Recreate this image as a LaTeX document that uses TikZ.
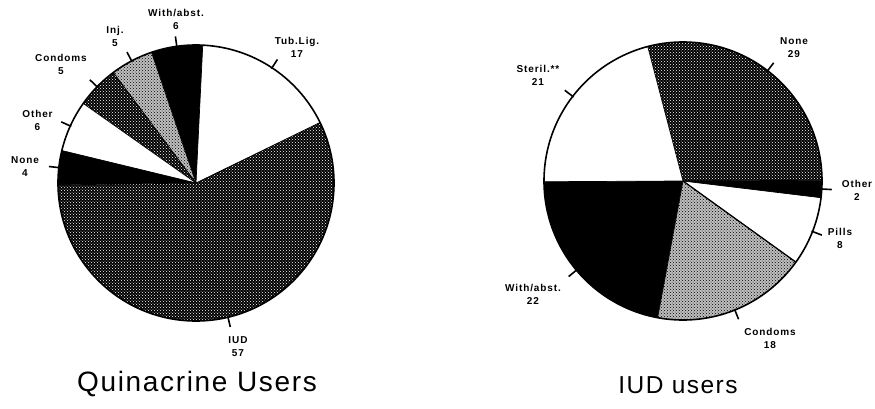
\documentclass[tikz,border=0pt]{standalone}
\usepackage{fontspec}
\setmainfont{Liberation Sans}
\newfontfamily\lblfont[LetterSpace=9,BoldFont={Liberation Sans Bold}]{Liberation Sans}
\newfontfamily\capfont[LetterSpace=6]{Liberation Sans}
\usetikzlibrary{patterns,calc}
\newcommand\pieslice[5]{\path[#5] (#1) -- ++(#2:#4) arc[start angle=#2, end angle=#3, radius=#4] -- cycle;}
\begin{document}
\begin{tikzpicture}[x=1pt,y=1pt,
  lbl/.style={font=\lblfont\bfseries\fontsize{10}{13}\selectfont, align=center, inner sep=0pt},
  tickline/.style={line width=1.6pt},
  rim/.style={line width=1.6pt},
  sep/.style={line width=0.7pt},
  whitefill/.style={fill=white},
  blackfill/.style={fill=black},
  darkfill/.style={fill=black, postaction={pattern=crosshatch dots, pattern color=white}},
  lightfill/.style={fill=black!25, postaction={pattern=crosshatch dots, pattern color=black}},
  caption/.style={anchor=base, inner sep=0pt}
]
\useasboundingbox (0,0) rectangle (875,408);
\coordinate (L) at (196,225);
\coordinate (R) at (683,227);

% ---------- left pie: Quinacrine users ----------
\pieslice{L}{26}{87.2}{138}{whitefill}
\pieslice{L}{87.2}{108.8}{138}{blackfill}
\pieslice{L}{108.8}{126.8}{138}{lightfill}
\pieslice{L}{126.8}{144.8}{138}{darkfill}
\pieslice{L}{144.8}{166.4}{138}{whitefill}
\pieslice{L}{166.4}{180.8}{138}{blackfill}
\pieslice{L}{180.8}{386}{138}{darkfill}
\foreach \a in {26,87.2,108.8,126.8,144.8,166.4,180.8}
  \draw[sep] (L) -- ++(\a:138);
\draw[rim] (L) circle[radius=138];

% ---------- right pie: IUD users ----------
\pieslice{R}{0.3}{104.7}{139}{darkfill}
\pieslice{R}{104.7}{180.3}{139}{whitefill}
\pieslice{R}{180.3}{259.5}{139}{blackfill}
\pieslice{R}{259.5}{324.3}{139}{lightfill}
\pieslice{R}{324.3}{353.1}{139}{whitefill}
\pieslice{R}{353.1}{360.3}{139}{blackfill}
\foreach \a in {0.3,104.7,180.3,259.5,324.3,353.1}
  \draw[sep] (R) -- ++(\a:139);
\draw[sep, line width=1.2pt] (R) -- ++(324.3:139);
\draw[rim] (R) circle[radius=139];

% ---------- tick coordinates ----------
\foreach \n/\c/\a/\r in {tubl/L/56.6/138, witha/L/98/138, inj/L/117.8/138, condL/L/135.8/138,
  otherL/L/155.6/138, noneL/L/173.6/138, iud/L/283.4/138,
  noneR/R/52.5/139, steril/R/142.5/139, withR/R/219.9/139, condR/R/291.9/139,
  pills/R/338.7/139, otherR/R/356.7/139}{
  \coordinate (\n-in) at ($(\c)+(\a:\r-1)$);
  \coordinate (\n-out) at ($(\c)+(\a:\r+10)$);
}
\foreach \n in {tubl,witha,inj,condL,otherL,noneL,iud,noneR,steril,withR,condR,pills,otherR}
  \draw[tickline] (\n-in) -- (\n-out);

% ---------- labels ----------
\node[lbl] (tublT) at (297,361) {Tub.Lig.\\17};
\node[lbl] (withaT) at (176,389) {With/abst.\\6};
\node[lbl] (injT) at (115,372) {Inj.\\5};
\node[lbl] (condLT) at (61,344) {Condoms\\5};
\node[lbl] (otherLT) at (37.5,288) {Other\\6};
\node[lbl] (noneLT) at (25,241) {None\\4};
\node[lbl] (iudT) at (238,61) {IUD\\57};

\node[lbl] (sterilT) at (538,333) {Steril.**\\21};
\node[lbl] (noneRT) at (794,360) {None\\29};
\node[lbl] (otherRT) at (857,218) {Other\\2};
\node[lbl] (pillsT) at (840,170) {Pills\\8};
\node[lbl] (condRT) at (770,70) {Condoms\\18};
\node[lbl] (withRT) at (533,114) {With/abst.\\22};

% ---------- captions ----------
\node[caption, font=\capfont\fontsize{28}{32}\selectfont] (capL) at (197,17) {Quinacrine Users};
\node[caption, font=\capfont\fontsize{24.5}{28}\selectfont] (capR) at (678,15) {IUD users};
\end{tikzpicture}
\end{document}
